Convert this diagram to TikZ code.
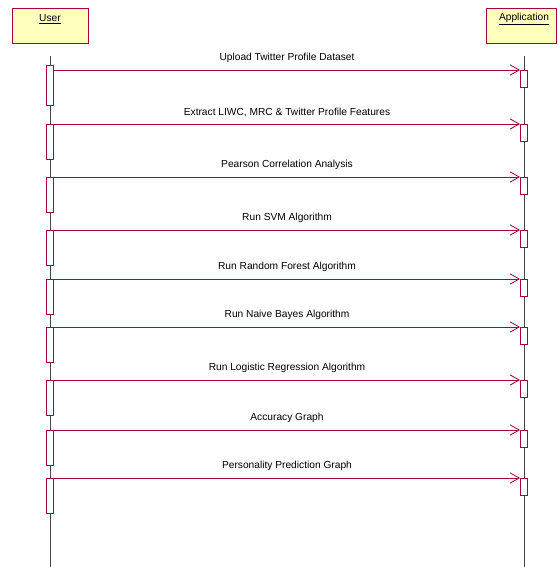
\documentclass[tikz,border=0pt]{standalone}
\usepackage{fontspec}
\setmainfont{Liberation Sans}
\usetikzlibrary{arrows.meta}
\definecolor{umlred}{RGB}{166,0,63}
\definecolor{umlfill}{RGB}{255,255,190}
\definecolor{lifegray}{RGB}{70,70,70}
\tikzset{
  x=1pt, y=1pt,
  header/.style={draw=umlred, fill=umlfill, line width=0.9pt},
  lifeline/.style={draw=lifegray, line width=0.7pt},
  actbox/.style={draw=umlred, fill=white, line width=0.9pt, minimum width=7pt, inner sep=0pt, anchor=north},
  msg/.style={draw=umlred, line width=0.9pt, -{Straight Barb[length=9pt,width=10pt,line width=0.8pt]}},
  msglabel/.style={font=\fontsize{10.2}{12}\selectfont, inner sep=0pt, above=7pt},
  hdrtext/.style={font=\fontsize{10.2}{12}\selectfont, inner sep=0pt}
}
\begin{document}
\begin{tikzpicture}
\useasboundingbox (0,0) rectangle (557,-567);
% headers
\path[header] (12,-8) rectangle (88,-43);
\node[hdrtext] (userlbl) at (50,-19) {\underline{User}};
\path[header] (486,-8) rectangle (556,-43);
\node[hdrtext] (applbl) at (524,-19) {\underline{Application}};
% lifelines
\coordinate (utop) at (50,-56);
\coordinate (ubot) at (50,-567);
\coordinate (atop) at (524,-56);
\coordinate (abot) at (524,-567);
\draw[lifeline] (utop) -- (ubot);
\draw[lifeline] (atop) -- (abot);
% activation boxes and messages
\foreach \i/\y/\t/\txt in {
  1/70/65/{Upload Twitter Profile Dataset},
  2/124/124/{Extract LIWC, MRC \& Twitter Profile Features},
  3/177/177/{Pearson Correlation Analysis},
  4/230/230/{Run SVM Algorithm},
  5/279/279/{Run Random Forest Algorithm},
  6/327/327/{Run Naive Bayes Algorithm},
  7/380/380/{Run Logistic Regression Algorithm},
  8/430/430/{Accuracy Graph},
  9/478/478/{Personality Prediction Graph}}{
  \pgfmathsetmacro{\uh}{\y+35-\t}
  \node[actbox, minimum height=\uh pt] (u\i) at (50,-\t) {};
  \node[actbox, minimum height=17pt] (a\i) at (524,-\y) {};
  \draw[msg] (a\i.north west -| u\i.east) -- node[msglabel] (m\i) {\txt} (a\i.north west);
}
\end{tikzpicture}
\end{document}
